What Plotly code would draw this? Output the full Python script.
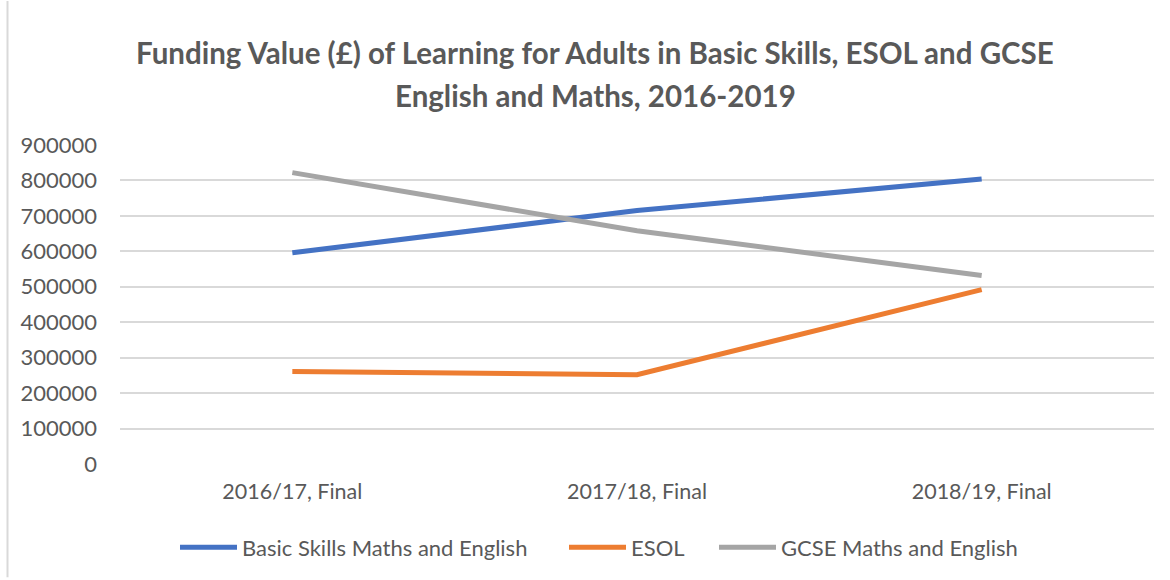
import plotly.graph_objects as go

categories = ["2016/17, Final", "2017/18, Final", "2018/19, Final"]
basic_skills = [596000, 715000, 804000]
esol = [261000, 252000, 492000]
gcse = [822000, 658000, 532000]
y_ticks = [0, 100000, 200000, 300000, 400000, 500000, 600000, 700000, 800000, 900000]

series_names = ["Basic Skills Maths and English", "ESOL", "GCSE Maths and English"]
colors = ["#4472C4", "#ED7D31", "#A5A5A5"]
legend_ids = ["legend", "legend2", "legend3"]
legend_left_px = [183, 572, 722]

FONT = "Lato, Carlito, Calibri, sans-serif"
TXT = "#595959"

W, H = 1170, 580
L, R, T, B = 120, 1154, 145, 466

def px(x):
    return (x - L) / (R - L)

def py(y):
    return (B - y) / (B - T)

fig = go.Figure()
for name, vals, c, lg in zip(series_names, [basic_skills, esol, gcse], colors, legend_ids):
    fig.add_trace(go.Scatter(
        x=categories, y=vals, name=name, mode="lines", legend=lg,
        line=dict(color=c, width=5, shape="linear"),
    ))

legend_common = dict(
    orientation="h", yanchor="middle", y=py(550), xanchor="left",
    font=dict(size=22, color=TXT, family=FONT), itemwidth=57,
    bgcolor="rgba(0,0,0,0)", borderwidth=0,
)
legends = {}
for lg, lx in zip(legend_ids, legend_left_px):
    legends[lg] = dict(legend_common, x=px(lx - 8))

fig.update_layout(
    width=W, height=H,
    margin=dict(l=L, r=W - R, t=T, b=H - B, pad=0),
    paper_bgcolor="white", plot_bgcolor="white",
    font=dict(family=FONT, color=TXT, size=22),
    showlegend=True,
    xaxis=dict(
        type="category", range=[-0.5, 2.5], showgrid=False, zeroline=False,
        showline=False, ticks="", ticklabelstandoff=12,
        tickfont=dict(size=21.5, color=TXT, family=FONT),
    ),
    yaxis=dict(
        range=[0, 900000], tickvals=y_ticks, ticktext=[str(v) for v in y_ticks],
        showgrid=True, gridcolor="#D9D9D9", gridwidth=1.5,
        zeroline=False, showline=False, ticks="", ticklabelstandoff=22,
        tickfont=dict(size=22, color=TXT, family=FONT),
    ),
    annotations=[
        dict(text="<b>Funding Value (£) of Learning for Adults in Basic Skills, ESOL and GCSE</b>",
             x=px(595), y=py(52), xref="paper", yref="paper", showarrow=False,
             xanchor="center", yanchor="middle", font=dict(size=29.5, color=TXT, family=FONT)),
        dict(text="<b>English and Maths, 2016-2019</b>",
             x=px(595), y=py(95), xref="paper", yref="paper", showarrow=False,
             xanchor="center", yanchor="middle", font=dict(size=29.5, color=TXT, family=FONT)),
    ],
    shapes=[
        dict(type="line", xref="paper", yref="paper", x0=px(7.5), x1=px(7.5), y0=py(0), y1=py(580),
             line=dict(color="#D9D9D9", width=2)),
    ],
    **legends,
)

fig.write_html("out.html")
